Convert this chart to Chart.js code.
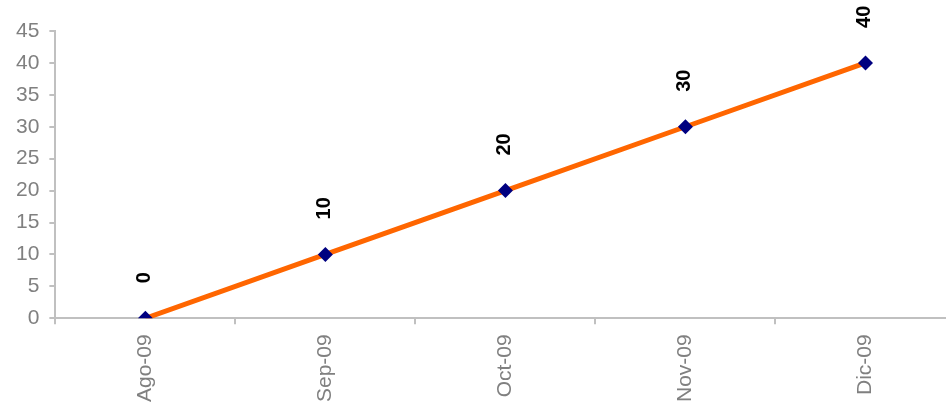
<!DOCTYPE html>
<html>
<head>
<meta charset="utf-8">
<script src="https://cdn.jsdelivr.net/npm/chart.js@4"></script>
<style>
    html, body { margin: 0; padding: 0; overflow: hidden; background: #fff; }
    #wrap { width: 963px; height: 416px; }
</style>
</head>
<body>
<div id="wrap"><canvas id="chart"></canvas></div>
<script>
// Datos
const meses = ["Ago-09", "Sep-09", "Oct-09", "Nov-09", "Dic-09"];
const valores = [0, 10, 20, 30, 40];

// Etiquetas de datos giradas
const etiquetasPlugin = {
    id: "etiquetas",
    afterDatasetsDraw(chart) {
        const ctx = chart.ctx;
        const meta = chart.getDatasetMeta(0);
        ctx.save();
        ctx.font = "bold 20px 'Liberation Sans', Arial, sans-serif";
        ctx.fillStyle = "#000";
        ctx.textAlign = "left";
        ctx.textBaseline = "middle";
        meta.data.forEach((pt, i) => {
            ctx.save();
            ctx.translate(pt.x - 1, pt.y - 35);
            ctx.rotate(-Math.PI / 2);
            ctx.fillText(String(valores[i]), 0, 0);
            ctx.restore();
        });
        ctx.restore();
    }
};

const fuente = { family: "'Liberation Sans', Arial, sans-serif", size: 21 };

new Chart(document.getElementById("chart"), {
    type: "line",
    data: {
        labels: meses,
        datasets: [{
            data: valores,
            borderColor: "#ff6600",
            borderWidth: 5,
            pointStyle: "rectRot",
            pointRadius: 7.5,
            pointHoverRadius: 7.5,
            pointBackgroundColor: "#000080",
            pointBorderColor: "#000080",
            pointBorderWidth: 0,
            tension: 0
        }]
    },
    options: {
        responsive: true,
        maintainAspectRatio: false,
        animation: false,
        layout: {
            padding: { top: 31, left: 6, right: 0, bottom: 4 }
        },
        plugins: {
            legend: { display: false },
            tooltip: { enabled: false }
        },
        scales: {
            x: {
                offset: true,
                grid: {
                    offset: true,
                    drawOnChartArea: false,
                    drawTicks: true,
                    tickLength: 6,
                    color: "#c0c0c0",
                    lineWidth: 2
                },
                border: { color: "#c0c0c0", width: 2 },
                ticks: {
                    minRotation: 90,
                    maxRotation: 90,
                    padding: 10,
                    color: "#808080",
                    font: fuente
                }
            },
            y: {
                min: 0,
                max: 45,
                ticks: {
                    stepSize: 5,
                    padding: 10,
                    color: "#808080",
                    font: fuente
                },
                grid: {
                    drawOnChartArea: false,
                    drawTicks: true,
                    tickLength: 6,
                    color: "#c0c0c0",
                    lineWidth: 2
                },
                border: { color: "#c0c0c0", width: 2 }
            }
        }
    },
    plugins: [etiquetasPlugin]
});
</script>
</body>
</html>
